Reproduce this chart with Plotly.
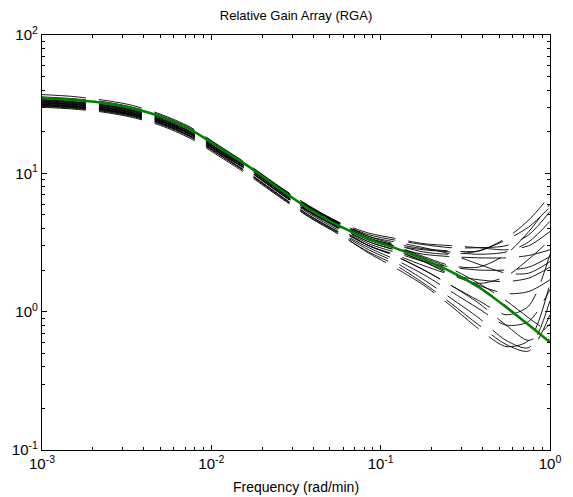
import plotly.graph_objects as go

# Frequency grid (rad/min)
freq = [0.001, 0.0015, 0.0022, 0.0033, 0.005, 0.0075, 0.011, 0.017, 0.025, 0.038,
        0.056, 0.085, 0.12, 0.18, 0.26, 0.38, 0.55, 0.75, 1.0]

# Nominal RGA (green)
rga_nominal = [35, 34, 32.5, 29.8, 25.8, 20.8, 15.5, 11.0, 7.8, 5.5,
               4.2, 3.35, 2.9, 2.38, 1.95, 1.5, 1.08, 0.8, 0.6]

# Perturbed RGA curves (black dashed)
rga_c01 = [37.1, 36.0, 34.1, 31.3, 26.8, 21.6, 16.0, 11.3, 8.1, 5.8, 4.45, 3.5, 3.1, 2.85, 2.75, 2.75, 3.4, 4.6, 6.9]
rga_c02 = [34.0, 33.0, 31.5, 29.2, 25.3, 20.6, 15.5, 11.1, 8.0, 5.7, 4.35, 3.4, 3.0, 2.5, 2.15, 2.1, 2.6, 3.8, 6.0]
rga_c03 = [32.6, 31.6, 30.2, 27.8, 24.2, 19.7, 14.9, 10.7, 7.7, 5.6, 4.4, 3.6, 3.3, 3.05, 2.9, 2.9, 3.0, 3.6, 5.3]
rga_c04 = [31.5, 30.6, 29.3, 27.0, 23.6, 19.3, 14.6, 10.5, 7.6, 5.45, 4.25, 3.3, 3.0, 2.8, 2.7, 2.6, 2.7, 3.2, 4.5]
rga_c05 = [33.3, 32.3, 30.9, 28.4, 24.7, 20.1, 15.1, 10.9, 7.85, 5.7, 4.45, 3.7, 3.4, 3.1, 3.0, 2.9, 2.8, 3.0, 3.8]
rga_c06 = [31.1, 30.3, 29.0, 26.8, 23.4, 19.0, 14.3, 10.3, 7.4, 5.3, 4.1, 3.2, 2.8, 2.3, 1.85, 1.6, 1.8, 2.4, 3.3]
rga_c07 = [32.2, 31.3, 29.9, 27.5, 24.0, 19.5, 14.7, 10.6, 7.6, 5.5, 4.3, 3.3, 2.9, 2.6, 2.5, 2.45, 2.45, 2.55, 2.8]
rga_c08 = [30.8, 29.9, 28.6, 26.3, 22.9, 18.6, 14.1, 10.2, 7.3, 5.25, 4.1, 3.1, 2.7, 2.3, 2.1, 2.0, 2.0, 2.1, 2.5]
rga_c09 = [31.9, 31.0, 29.6, 27.2, 23.7, 19.2, 14.4, 10.3, 7.35, 5.2, 4.0, 3.0, 2.6, 2.15, 1.85, 1.7, 1.65, 1.75, 2.1]
rga_c10 = [32.9, 32.0, 30.6, 28.1, 24.4, 19.8, 14.9, 10.6, 7.6, 5.4, 4.15, 3.2, 2.8, 2.3, 1.9, 1.55, 1.35, 1.4, 1.7]
rga_c11 = [30.5, 29.6, 28.3, 26.0, 22.6, 18.3, 13.7, 9.8, 7.0, 4.95, 3.8, 2.9, 2.4, 1.85, 1.4, 1.05, 0.8, 0.85, 1.45]
rga_c12 = [31.5, 30.6, 29.2, 26.8, 23.2, 18.7, 14.0, 9.9, 7.05, 4.95, 3.75, 2.8, 2.3, 1.7, 1.25, 0.9, 0.62, 0.55, 1.2]
rga_c13 = [30.1, 29.2, 27.9, 25.6, 22.2, 17.9, 13.4, 9.5, 6.8, 4.8, 3.65, 2.7, 2.2, 1.6, 1.15, 0.8, 0.58, 0.52, 0.95]
rga_c14 = [33.6, 32.6, 31.2, 28.6, 24.8, 20.0, 14.9, 10.6, 7.5, 5.3, 4.05, 3.0, 2.55, 2.0, 1.55, 1.15, 0.8, 0.62, 0.82]
rga_c15 = [34.7, 33.7, 32.2, 29.5, 25.5, 20.6, 15.4, 10.9, 7.75, 5.45, 4.2, 3.35, 2.9, 2.4, 1.97, 1.52, 1.1, 0.8, 0.62]
rga_c16 = [35.7, 34.7, 33.2, 30.4, 26.3, 21.2, 15.8, 11.2, 7.95, 5.6, 4.3, 3.4, 2.95, 2.45, 2.05, 1.6, 1.2, 0.9, 0.7]
rga_c17 = [32.5, 31.6, 30.2, 27.7, 24.0, 19.3, 14.4, 10.2, 7.25, 5.1, 3.9, 3.0, 2.55, 2.0, 1.55, 1.2, 0.95, 1.1, 2.6]
rga_c18 = [34.0, 33.0, 31.5, 28.9, 25.3, 20.6, 15.6, 11.2, 8.0, 5.75, 4.45, 3.5, 3.2, 2.9, 2.6, 2.2, 1.9, 1.9, 2.3]
rga_c19 = [31.2, 30.3, 28.9, 26.5, 23.0, 18.5, 13.8, 9.7, 6.9, 4.85, 3.7, 2.65, 2.1, 1.55, 1.1, 0.75, 0.56, 0.62, 1.6]
rga_c20 = [35.0, 34.0, 32.5, 29.8, 25.8, 20.9, 15.7, 11.2, 8.0, 5.7, 4.4, 3.4, 3.05, 2.7, 2.6, 2.75, 3.3, 4.1, 5.7]

perturbed = [rga_c01, rga_c02, rga_c03, rga_c04, rga_c05, rga_c06, rga_c07, rga_c08, rga_c09, rga_c10,
             rga_c11, rga_c12, rga_c13, rga_c14, rga_c15, rga_c16, rga_c17, rga_c18, rga_c19, rga_c20]

x_tick_vals = [0.001, 0.01, 0.1, 1]
x_tick_text = ["10<sup>-3</sup>", "10<sup>-2</sup>", "10<sup>-1</sup>", "10<sup>0</sup>"]
y_tick_vals = [0.1, 1, 10, 100]
y_tick_text = ["10<sup>-1</sup>", "10<sup>0</sup>", "10<sup>1</sup>", "10<sup>2</sup>"]

FONT = "Liberation Sans, Arial, sans-serif"

fig = go.Figure()
for vals in perturbed:
    fig.add_trace(go.Scatter(x=freq, y=vals, mode="lines",
                             line=dict(color="black", width=0.9, dash="44px,13px", shape="spline", smoothing=0.8),
                             showlegend=False, hoverinfo="skip"))
fig.add_trace(go.Scatter(x=freq, y=rga_nominal, mode="lines",
                         line=dict(color="#008000", width=2.5, shape="spline", smoothing=0.8),
                         showlegend=False))

minor_x = [m * d for d in [0.001, 0.01, 0.1] for m in range(2, 10)]
minor_y = [m * d for d in [0.1, 1, 10] for m in range(2, 10)]

axis_common = dict(showline=True, linecolor="black", linewidth=1.3, mirror="ticks",
                   ticks="inside", ticklen=5, tickcolor="black", tickwidth=1,
                   showgrid=False, zeroline=False,
                   tickfont=dict(family=FONT, size=15, color="black"))

fig.update_xaxes(type="log", range=[-3, 0], tickmode="array", tickvals=x_tick_vals, ticktext=x_tick_text,
                 minor=dict(tickmode="array", tickvals=minor_x, ticks="inside", ticklen=3, tickcolor="black"),
                 **axis_common)
fig.update_yaxes(type="log", range=[-1, 2], tickmode="array", tickvals=y_tick_vals, ticktext=y_tick_text,
                 minor=dict(tickmode="array", tickvals=minor_y, ticks="inside", ticklen=3, tickcolor="black"),
                 **axis_common)

fig.update_layout(
    width=573, height=497,
    margin=dict(l=39, r=12, t=35, b=47),
    paper_bgcolor="white", plot_bgcolor="white",
    font=dict(family=FONT, color="black"),
    title=dict(text="Relative Gain Array (RGA)", x=0.5, xref="paper", xanchor="center",
               y=1 - 15 / 497, yref="container", yanchor="middle",
               font=dict(size=13, color="black")),
    annotations=[dict(text="Frequency (rad/min)", x=0.5, xref="paper", y=-0.09, yref="paper",
                      xanchor="center", yanchor="middle", showarrow=False,
                      font=dict(size=14, color="black"))],
)

fig.write_html("out.html")
